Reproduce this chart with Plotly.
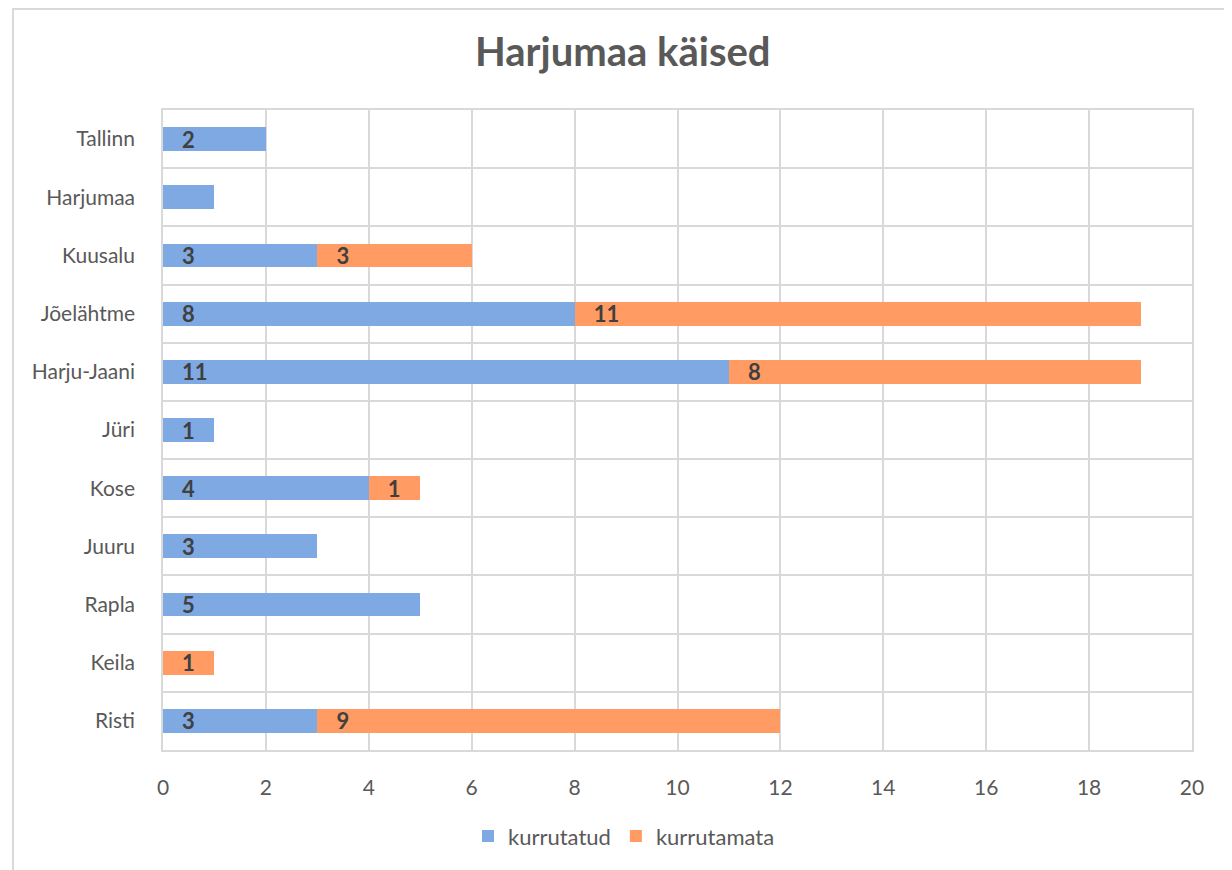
import plotly.graph_objects as go

categories = ["Risti", "Keila", "Rapla", "Juuru", "Kose", "Jüri",
              "Harju-Jaani", "Jõelähtme", "Kuusalu", "Harjumaa", "Tallinn"]
kurrutatud = [3, 0, 5, 3, 4, 1, 11, 8, 3, 1, 2]
kurrutamata = [9, 1, 0, 0, 1, 0, 8, 11, 3, 0, 0]
kurrutatud_labels = ["3", "", "5", "3", "4", "1", "11", "8", "3", "", "2"]
kurrutamata_labels = ["9", "1", "", "", "1", "", "8", "11", "3", "", ""]
x_ticks = list(range(0, 21, 2))

FONT = "Lato, 'Open Sans', sans-serif"
pad = "\u00a0\u00a0\u00a0"

fig = go.Figure()
fig.add_trace(go.Bar(
    y=categories, x=kurrutatud, name="kurrutatud", orientation="h",
    marker=dict(color="#7FA9E3", line=dict(width=0)),
    text=[pad + t if t else "" for t in kurrutatud_labels],
    textposition="inside", insidetextanchor="start", constraintext="none",
    textangle=0,
    textfont=dict(family=FONT, size=22, color="#404040", weight="bold"),
    hoverinfo="x+y+name",
))
fig.add_trace(go.Bar(
    y=categories, x=kurrutamata, name="kurrutamata", orientation="h",
    marker=dict(color="#FF9B63", line=dict(width=0)),
    text=[pad + t if t else "" for t in kurrutamata_labels],
    textposition="inside", insidetextanchor="start", constraintext="none",
    textangle=0,
    textfont=dict(family=FONT, size=22, color="#404040", weight="bold"),
    hoverinfo="x+y+name",
))

fig.update_layout(
    barmode="stack",
    bargap=0.59,
    width=1232, height=870,
    paper_bgcolor="white", plot_bgcolor="white",
    margin=dict(l=155, r=48, t=102, b=128),
    font=dict(family=FONT, size=21, color="#595959"),
    title=dict(text="<b>Harjumaa käised</b>", x=0.499, xref="container",
               y=0.949, yref="container", yanchor="middle",
               font=dict(family=FONT, size=40, color="#595959")),
    legend=dict(orientation="h", x=0.5, xanchor="center", xref="container",
                y=0.048, yref="container", yanchor="middle",
                font=dict(family=FONT, size=22, color="#595959"),
                itemwidth=30, traceorder="normal"),
    xaxis=dict(range=[0, 20], tickvals=x_ticks, showgrid=True,
               gridcolor="#D9D9D9", gridwidth=1.5, zeroline=False,
               showline=True, mirror=True, linecolor="#D9D9D9", linewidth=1.5,
               ticks="", ticklabelstandoff=18,
               tickfont=dict(size=21, color="#595959")),
    yaxis=dict(type="category", categoryorder="array", categoryarray=categories,
               tickson="boundaries", showgrid=True, gridcolor="#D9D9D9",
               gridwidth=1.5, showline=True, mirror=True, linecolor="#D9D9D9",
               linewidth=1.5, ticks="", ticklabelstandoff=22,
               tickfont=dict(size=21, color="#595959")),
    shapes=[dict(type="rect", xref="paper", yref="paper",
                 x0=-0.1458, x1=1.1, y0=-0.3, y1=1.1578,
                 line=dict(color="#D9D9D9", width=2), layer="below")],
)

fig.write_html("out.html")
